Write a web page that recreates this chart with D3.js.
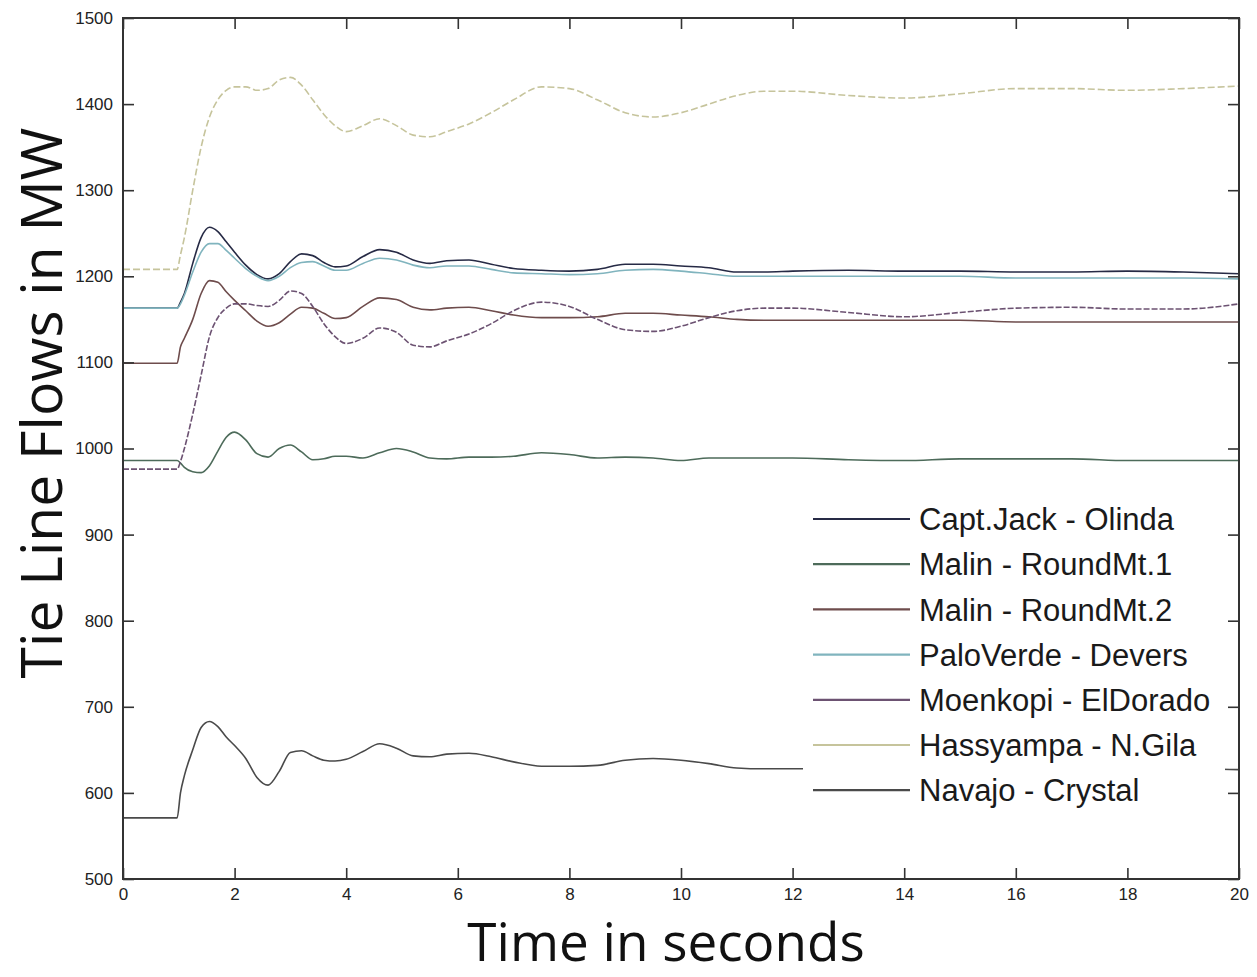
<!DOCTYPE html>
<html>
<head>
<meta charset="utf-8">
<script src="https://cdn.jsdelivr.net/npm/d3@7"></script>
<style>
  html, body { margin: 0; padding: 0; background: #fff; }
  svg { display: block; }
</style>
</head>
<body>
<svg id="chart" width="1257" height="977"></svg>
<script>
// ---- data ----
const times = [0, 0.97, 1.03, 1.1, 1.25, 1.4, 1.55, 1.7, 1.85, 2.0, 2.2, 2.4, 2.6, 2.8, 3.0, 3.2, 3.4, 3.6, 3.8, 4.0,
  4.3, 4.6, 4.9, 5.2, 5.5, 5.8, 6.2, 6.6, 7.0, 7.5, 8.0, 8.5, 9.0, 9.5, 10.0, 10.5, 11.0, 11.5, 12.0,
  13.0, 14.0, 15.0, 16.0, 17.0, 18.0, 19.0, 20.0];

const captJackOlinda = [1163, 1163, 1170, 1180, 1215, 1245, 1257, 1252, 1240, 1228, 1213, 1202, 1197, 1203, 1217, 1226, 1224, 1216, 1211, 1212,
  1223, 1231, 1228, 1219, 1215, 1218, 1219, 1214, 1209, 1207, 1206, 1208, 1214, 1214, 1212, 1210, 1205, 1205, 1206,
  1207, 1206, 1206, 1205, 1205, 1206, 1205, 1203];

const malinRoundMt1 = [986, 986, 983, 978, 973, 972, 980, 997, 1013, 1019, 1010, 994, 990, 1000, 1004, 996, 987, 988, 991, 991,
  989, 995, 1000, 996, 989, 988, 990, 990, 991, 995, 993, 989, 990, 989, 986, 989, 989, 989, 989,
  987, 986, 988, 988, 988, 986, 986, 986];

const malinRoundMt2 = [1099, 1099, 1118, 1128, 1150, 1180, 1195, 1193, 1182, 1172, 1160, 1148, 1142, 1146, 1156, 1164, 1163, 1157, 1151, 1152,
  1165, 1175, 1173, 1164, 1161, 1163, 1164, 1160, 1155, 1152, 1152, 1153, 1157, 1157, 1155, 1153, 1150, 1149, 1149,
  1149, 1149, 1149, 1147, 1147, 1147, 1147, 1147];

const paloVerdeDevers = [1163, 1163, 1168, 1178, 1205, 1228, 1238, 1238, 1230, 1221, 1209, 1200, 1195, 1200, 1210, 1216, 1217, 1212, 1207, 1207,
  1215, 1221, 1219, 1213, 1210, 1212, 1212, 1208, 1204, 1203, 1202, 1203, 1207, 1208, 1206, 1203, 1200, 1200, 1200,
  1200, 1200, 1200, 1198, 1198, 1198, 1198, 1197];

const moenkopiElDorado = [976, 976, 985, 1000, 1040, 1085, 1130, 1152, 1163, 1168, 1168, 1166, 1165, 1172, 1183, 1180, 1165, 1145, 1130, 1122,
  1128, 1140, 1135, 1120, 1118, 1125, 1133, 1145, 1160, 1170, 1165, 1150, 1138, 1136, 1142, 1152, 1160, 1163, 1163,
  1158, 1153, 1158, 1163, 1164, 1162, 1162, 1168];

const hassyampaNGila = [1208, 1208, 1225, 1245, 1300, 1350, 1385, 1405, 1416, 1420, 1420, 1416, 1418, 1428, 1431, 1422, 1405, 1388, 1375, 1368,
  1375, 1383, 1375, 1364, 1362, 1368, 1377, 1390, 1405, 1420, 1418, 1405, 1390, 1385, 1390, 1400, 1410, 1415, 1415,
  1410, 1407, 1412, 1418, 1418, 1416, 1418, 1421];

const navajoCrystal = [571, 571, 600, 620, 650, 676, 683, 677, 665, 655, 640, 618, 609, 625, 647, 649, 643, 638, 637, 639,
  648, 657, 652, 643, 642, 645, 646, 642, 636, 631, 631, 632, 638, 640, 638, 634, 629, 628, 628,
  628, 628, 628, 628, 628, 628, 628, 627];

const seriesNames = ["Capt.Jack - Olinda", "Malin - RoundMt.1", "Malin - RoundMt.2", "PaloVerde - Devers",
  "Moenkopi - ElDorado", "Hassyampa - N.Gila", "Navajo - Crystal"];
const seriesValues = [captJackOlinda, malinRoundMt1, malinRoundMt2, paloVerdeDevers,
  moenkopiElDorado, hassyampaNGila, navajoCrystal];
const seriesColors = ["#262a45", "#4d6b5a", "#6e4c4c", "#80b4be", "#6c5272", "#c6c49c", "#4a4a4a"];
const seriesDash = [null, null, null, null, "6,2", "7,3", null];

const xTicks = [0, 2, 4, 6, 8, 10, 12, 14, 16, 18, 20];
const yTicks = [500, 600, 700, 800, 900, 1000, 1100, 1200, 1300, 1400, 1500];
const xTitle = "Time in seconds";
const yTitle = "Tie Line Flows in MW";

// ---- layout ----
(function draw() {
const svg = d3.select("#chart");
const mL = 123, mR = 1239, mT = 18, mB = 879;
const x = d3.scaleLinear().domain([0, 20]).range([mL, mR]);
const y = d3.scaleLinear().domain([500, 1500]).range([mB, mT]);
const axisColor = "#333";
const tickFont = "17px 'Liberation Sans', Arial, sans-serif";

svg.append("defs").append("clipPath").attr("id", "plotclip")
  .append("rect").attr("x", mL).attr("y", mT).attr("width", mR - mL).attr("height", mB - mT);

// lines
const line = d3.line().x((d, i) => x(times[i])).y(d => y(d)).curve(d3.curveMonotoneX);
const lines = svg.append("g").attr("clip-path", "url(#plotclip)");
seriesValues.forEach((vals, k) => {
  lines.append("path")
    .attr("d", line(vals))
    .attr("fill", "none")
    .attr("stroke", seriesColors[k])
    .attr("stroke-width", 1.6)
    .attr("stroke-dasharray", seriesDash[k])
    .attr("stroke-linejoin", "round");
});

// axes (MATLAB-like box with inward ticks)
function styleAxis(g, showLabels) {
  g.select(".domain").remove();
  g.selectAll(".tick line").attr("stroke", axisColor).attr("stroke-width", 1.6);
  g.selectAll(".tick text").style("font", tickFont).attr("fill", "#222");
  if (!showLabels) g.selectAll(".tick text").remove();
}
svg.append("g").attr("transform", `translate(0,${mB})`)
  .call(d3.axisBottom(x).tickValues(xTicks).tickFormat(d3.format("d")).tickSizeInner(-11).tickSizeOuter(0))
  .call(g => styleAxis(g, true))
  .call(g => g.selectAll(".tick text").attr("y", 9).attr("dy", "0.71em"));
svg.append("g").attr("transform", `translate(0,${mT})`)
  .call(d3.axisTop(x).tickValues(xTicks).tickSizeInner(-11).tickSizeOuter(0))
  .call(g => styleAxis(g, false));
svg.append("g").attr("transform", `translate(${mL},0)`)
  .call(d3.axisLeft(y).tickValues(yTicks).tickFormat(d3.format("d")).tickSizeInner(-11).tickSizeOuter(0))
  .call(g => styleAxis(g, true))
  .call(g => g.selectAll(".tick text").attr("x", -10));
svg.append("g").attr("transform", `translate(${mR},0)`)
  .call(d3.axisRight(y).tickValues(yTicks).tickSizeInner(-11).tickSizeOuter(0))
  .call(g => styleAxis(g, false));

svg.append("rect").attr("x", mL).attr("y", mT).attr("width", mR - mL).attr("height", mB - mT)
  .attr("fill", "none").attr("stroke", axisColor).attr("stroke-width", 2);

// legend
const legX = 803, legY = 497, legW = 422, legH = 318;
const leg = svg.append("g");
leg.append("rect").attr("x", legX).attr("y", legY).attr("width", legW).attr("height", legH).attr("fill", "#fff");
seriesNames.forEach((name, k) => {
  const cy = 519 + k * 45.2;
  leg.append("line").attr("x1", 813).attr("x2", 910).attr("y1", cy).attr("y2", cy)
    .attr("stroke", seriesColors[k]).attr("stroke-width", 2.2);
  leg.append("text").attr("x", 919).attr("y", cy).attr("dy", "0.36em")
    .style("font", "31px 'Liberation Sans', Arial, sans-serif").attr("fill", "#1a1a1a")
    .text(name);
});

// titles
svg.append("text").attr("x", 666).attr("y", 961).attr("text-anchor", "middle")
  .style("font", "53px 'Open Sans', sans-serif").attr("fill", "#111").text(xTitle);
svg.append("text").attr("transform", "translate(62,403) rotate(-90)").attr("text-anchor", "middle")
  .style("font", "57px 'Open Sans', sans-serif").attr("fill", "#111").text(yTitle);
})();
</script>
</body>
</html>
